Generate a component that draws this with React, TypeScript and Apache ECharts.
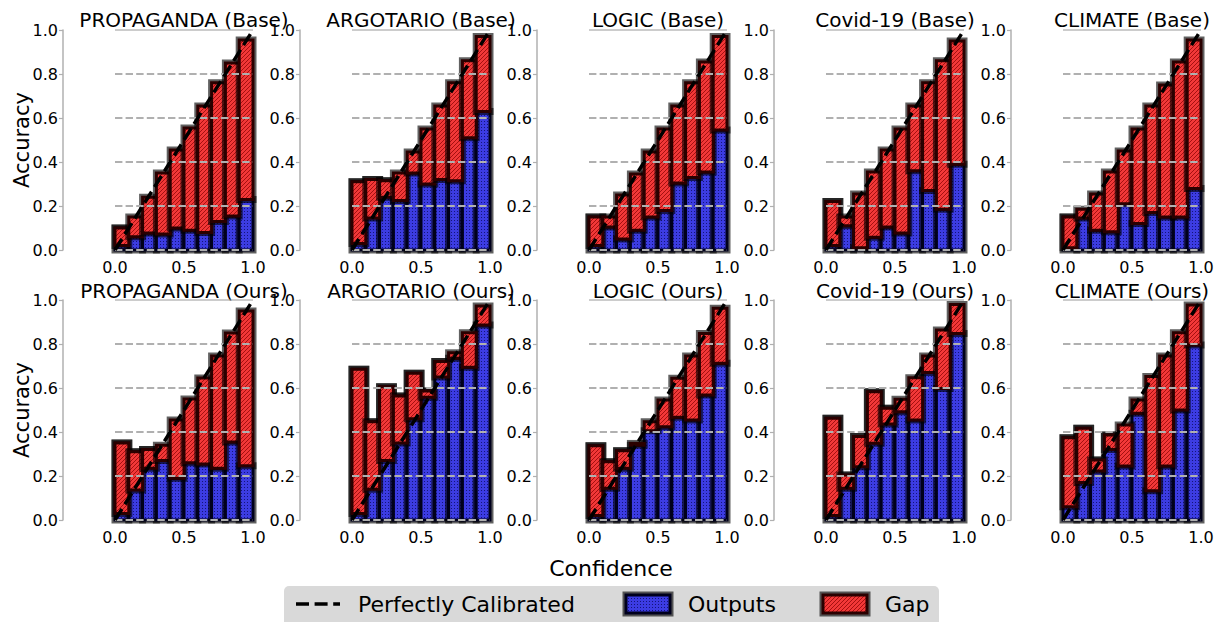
import React, { useEffect, useRef } from "react";
import * as echarts from "echarts";

// ---------- data ----------
const BIN_LEFT = [0.0, 0.1, 0.2, 0.3, 0.4, 0.5, 0.6, 0.7, 0.8, 0.9];
const BIN_W = 0.1;
const X_TICKS_INTERVAL = 0.5;
const Y_TICKS = [0.0, 0.2, 0.4, 0.6, 0.8, 1.0];
const DIAGONAL = [[0, 0], [1, 1]];

const PANEL_TITLES = [
  "PROPAGANDA (Base)", "ARGOTARIO (Base)", "LOGIC (Base)", "Covid-19 (Base)", "CLIMATE (Base)",
  "PROPAGANDA (Ours)", "ARGOTARIO (Ours)", "LOGIC (Ours)", "Covid-19 (Ours)", "CLIMATE (Ours)",
];

const PROPAGANDA_BASE_ACC = [0.10, 0.06, 0.077, 0.073, 0.10, 0.09, 0.08, 0.13, 0.155, 0.23];
const PROPAGANDA_BASE_CONF = [0.02, 0.15, 0.24, 0.35, 0.455, 0.555, 0.655, 0.76, 0.85, 0.955];
const ARGOTARIO_BASE_ACC = [0.31, 0.32, 0.315, 0.225, 0.35, 0.30, 0.32, 0.315, 0.51, 0.63];
const ARGOTARIO_BASE_CONF = [0.03, 0.145, 0.24, 0.35, 0.445, 0.55, 0.655, 0.76, 0.86, 0.97];
const LOGIC_BASE_ACC = [0.15, 0.105, 0.05, 0.09, 0.15, 0.18, 0.305, 0.33, 0.355, 0.545];
const LOGIC_BASE_CONF = [0.02, 0.15, 0.25, 0.345, 0.445, 0.55, 0.655, 0.76, 0.855, 0.97];
const COVID_BASE_ACC = [0.22, 0.11, 0.01, 0.058, 0.105, 0.077, 0.36, 0.27, 0.185, 0.39];
const COVID_BASE_CONF = [0.02, 0.15, 0.255, 0.355, 0.455, 0.55, 0.655, 0.76, 0.86, 0.95];
const CLIMATE_BASE_ACC = [0.15, 0.145, 0.09, 0.083, 0.21, 0.12, 0.17, 0.15, 0.15, 0.28];
const CLIMATE_BASE_CONF = [0.01, 0.185, 0.255, 0.355, 0.45, 0.55, 0.655, 0.75, 0.855, 0.955];

const PROPAGANDA_OURS_ACC = [0.35, 0.31, 0.32, 0.27, 0.19, 0.26, 0.255, 0.235, 0.355, 0.247];
const PROPAGANDA_OURS_CONF = [0.03, 0.136, 0.235, 0.34, 0.455, 0.55, 0.645, 0.745, 0.85, 0.95];
const ARGOTARIO_OURS_ACC = [0.685, 0.447, 0.606, 0.564, 0.667, 0.586, 0.72, 0.735, 0.694, 0.886];
const ARGOTARIO_OURS_CONF = [0.03, 0.14, 0.27, 0.35, 0.46, 0.558, 0.65, 0.76, 0.851, 0.973];
const LOGIC_OURS_ACC = [0.338, 0.265, 0.315, 0.34, 0.406, 0.424, 0.467, 0.455, 0.568, 0.712];
const LOGIC_OURS_CONF = [0.02, 0.144, 0.235, 0.348, 0.447, 0.545, 0.644, 0.745, 0.848, 0.962];
const COVID_OURS_ACC = [0.462, 0.205, 0.379, 0.583, 0.508, 0.492, 0.455, 0.67, 0.598, 0.848];
const COVID_OURS_CONF = [0.02, 0.144, 0.242, 0.349, 0.436, 0.549, 0.647, 0.745, 0.864, 0.98];
const CLIMATE_OURS_ACC = [0.374, 0.417, 0.273, 0.386, 0.245, 0.485, 0.133, 0.245, 0.50, 0.795];
const CLIMATE_OURS_CONF = [0.06, 0.17, 0.223, 0.321, 0.432, 0.545, 0.652, 0.745, 0.851, 0.977];

const PANEL_ACC = [
  PROPAGANDA_BASE_ACC, ARGOTARIO_BASE_ACC, LOGIC_BASE_ACC, COVID_BASE_ACC, CLIMATE_BASE_ACC,
  PROPAGANDA_OURS_ACC, ARGOTARIO_OURS_ACC, LOGIC_OURS_ACC, COVID_OURS_ACC, CLIMATE_OURS_ACC,
];
const PANEL_CONF = [
  PROPAGANDA_BASE_CONF, ARGOTARIO_BASE_CONF, LOGIC_BASE_CONF, COVID_BASE_CONF, CLIMATE_BASE_CONF,
  PROPAGANDA_OURS_CONF, ARGOTARIO_OURS_CONF, LOGIC_OURS_CONF, COVID_OURS_CONF, CLIMATE_OURS_CONF,
];

const LEGEND_LABELS = ["Perfectly Calibrated", "Outputs", "Gap"];

// ---------- layout ----------
const FONT = "DejaVu Sans";
const COL_LEFT = [115, 352, 589, 826, 1063];
const ROW_TOP = [30, 300];
const PLOT_W = 138;
const PLOT_H = 220;

function makePattern(kind: "red" | "blue") {
  const c = document.createElement("canvas");
  const ctx = c.getContext("2d") as CanvasRenderingContext2D;
  if (kind === "red") {
    c.width = 4; c.height = 4;
    ctx.fillStyle = "#f23838";
    ctx.fillRect(0, 0, 4, 4);
    ctx.strokeStyle = "#a51010";
    ctx.lineWidth = 1;
    ctx.beginPath();
    ctx.moveTo(-1, 5); ctx.lineTo(5, -1);
    ctx.moveTo(-1, 1); ctx.lineTo(1, -1);
    ctx.moveTo(3, 5); ctx.lineTo(5, 3);
    ctx.stroke();
  } else {
    c.width = 3; c.height = 3;
    ctx.fillStyle = "#3c3ce2";
    ctx.fillRect(0, 0, 3, 3);
    ctx.fillStyle = "#14147a";
    ctx.fillRect(1, 1, 1, 1);
  }
  return { image: c.toDataURL(), repeat: "repeat", imageWidth: c.width, imageHeight: c.height };
}

export default function App() {
  const ref = useRef<HTMLDivElement>(null);
  useEffect(() => {
    if (!ref.current) return;
    const chart = echarts.init(ref.current, null, { renderer: "svg" });
    const redFill = makePattern("red");
    const blueFill = makePattern("blue");
    const HALO = "rgba(0,0,0,0.62)";

    const barRender = (fill: any, edge: string) => (params: any, api: any) => {
      const lo = Math.min(api.value(2), api.value(3));
      const hi = Math.max(api.value(2), api.value(3));
      const a = api.coord([api.value(0), hi]);
      const b = api.coord([api.value(1), lo]);
      const shape = { x: a[0], y: a[1], width: b[0] - a[0], height: b[1] - a[1] };
      return {
        type: "group",
        children: [
          { type: "rect", shape, style: { fill: "none", stroke: HALO, lineWidth: 7 } },
          { type: "rect", shape, style: { fill, stroke: edge, lineWidth: 3 } },
        ],
      };
    };

    const gridRender = (params: any, api: any) => {
      const v = api.value(2);
      const p0 = api.coord([api.value(0), v]);
      const p1 = api.coord([api.value(1), v]);
      const top = v >= 1;
      return {
        type: "line",
        shape: { x1: p0[0], y1: p0[1], x2: p1[0], y2: p1[1] },
        style: top
          ? { stroke: "#9a9a9a", lineWidth: 1 }
          : { stroke: "#b0b0b0", lineWidth: 2, lineDash: [7.4, 3.2] },
      };
    };

    const grids: any[] = [];
    const xAxes: any[] = [];
    const yAxes: any[] = [];
    const series: any[] = [];
    const graphics: any[] = [];
    const fmt = (v: number) => v.toFixed(1);

    for (let i = 0; i < 10; i++) {
      const r = Math.floor(i / 5);
      const c = i % 5;
      grids.push({ left: COL_LEFT[c], top: ROW_TOP[r], width: PLOT_W, height: PLOT_H });
      xAxes.push({
        type: "value", gridIndex: i, min: 0, max: 1, interval: X_TICKS_INTERVAL,
        axisLine: { show: false }, axisTick: { show: false }, splitLine: { show: false },
        axisLabel: { fontSize: 16, color: "#000", fontFamily: FONT, margin: 9, formatter: fmt },
      });
      yAxes.push({
        type: "value", gridIndex: i, min: 0, max: 1, interval: 0.2, offset: 52,
        axisLine: { show: true, onZero: false, lineStyle: { color: "#b0b0b0", width: 1.5 } },
        axisTick: { show: true, length: 4, lineStyle: { color: "#b0b0b0", width: 1.2 } },
        splitLine: { show: false },
        axisLabel: { fontSize: 16, color: "#000", fontFamily: FONT, margin: 5, formatter: fmt },
      });
      const acc = PANEL_ACC[i];
      const conf = PANEL_CONF[i];
      series.push({
        type: "custom", name: "Outputs", xAxisIndex: i, yAxisIndex: i, z: 2,
        renderItem: barRender(blueFill, "#00001c"),
        encode: { x: [0, 1], y: [2, 3] },
        data: BIN_LEFT.map((b, k) => [b, b + BIN_W, 0, acc[k]]),
      });
      series.push({
        type: "custom", name: "Gap", xAxisIndex: i, yAxisIndex: i, z: 3,
        renderItem: barRender(redFill, "#2a0000"),
        encode: { x: [0, 1], y: [2, 3] },
        data: BIN_LEFT.map((b, k) => [b, b + BIN_W, acc[k], conf[k]]),
      });
      series.push({
        type: "custom", name: "grid", xAxisIndex: i, yAxisIndex: i, z: 4, silent: true,
        renderItem: gridRender,
        encode: { x: [0, 1], y: 2 },
        data: Y_TICKS.map((v) => [0, 1, v]),
      });
      series.push({
        type: "line", name: "Perfectly Calibrated", xAxisIndex: i, yAxisIndex: i, z: 5,
        symbol: "none", silent: true,
        lineStyle: { color: "#000", width: 3.5, type: [13, 5.6] },
        data: DIAGONAL,
      });
      graphics.push({
        type: "text", x: COL_LEFT[c] + PLOT_W / 2, y: r === 0 ? 20 : 291,
        style: {
          text: PANEL_TITLES[i], fontSize: 20, fontFamily: FONT, fill: "#000",
          align: "center", verticalAlign: "middle", textAlign: "center", textVerticalAlign: "middle",
        },
      });
    }

    // axis names
    [140, 410].forEach((cy) => {
      graphics.push({
        type: "text", x: 22, y: cy, rotation: Math.PI / 2,
        style: {
          text: "Accuracy", fontSize: 21, fontFamily: FONT, fill: "#000",
          align: "center", verticalAlign: "middle", textAlign: "center", textVerticalAlign: "middle",
        },
      });
    });
    graphics.push({
      type: "text", x: 611, y: 568,
      style: {
        text: "Confidence", fontSize: 22, fontFamily: FONT, fill: "#000",
        align: "center", verticalAlign: "middle", textAlign: "center", textVerticalAlign: "middle",
      },
    });

    // legend
    const LY = 604;
    graphics.push({ type: "rect", shape: { x: 284, y: 586, width: 655, height: 50, r: 5 }, style: { fill: "#d9d9d9" } });
    graphics.push({
      type: "line", shape: { x1: 296, y1: LY, x2: 340, y2: LY },
      style: { stroke: "#000", lineWidth: 3.5, lineDash: [13, 5.6] },
    });
    const patch = (x: number, fill: any, edge: string) => {
      const shape = { x, y: LY - 9, width: 44, height: 18 };
      graphics.push({ type: "rect", shape, style: { fill: "none", stroke: HALO, lineWidth: 7 } });
      graphics.push({ type: "rect", shape, style: { fill, stroke: edge, lineWidth: 3 } });
    };
    patch(626, blueFill, "#00001c");
    patch(823, redFill, "#2a0000");
    const legText = (x: number, t: string) =>
      graphics.push({
        type: "text", x, y: LY,
        style: {
          text: t, fontSize: 22, fontFamily: FONT, fill: "#000",
          align: "left", verticalAlign: "middle", textAlign: "left", textVerticalAlign: "middle",
        },
      });
    legText(358, LEGEND_LABELS[0]);
    legText(688, LEGEND_LABELS[1]);
    legText(885, LEGEND_LABELS[2]);

    chart.setOption({
      animation: false,
      textStyle: { fontFamily: FONT },
      grid: grids,
      xAxis: xAxes,
      yAxis: yAxes,
      series,
      graphic: { elements: graphics },
    });
    return () => chart.dispose();
  }, []);
  return (
    <div
      ref={ref}
      style={{ position: "fixed", left: 0, top: 0, width: 1220, height: 622, background: "#fff" }}
    />
  );
}
